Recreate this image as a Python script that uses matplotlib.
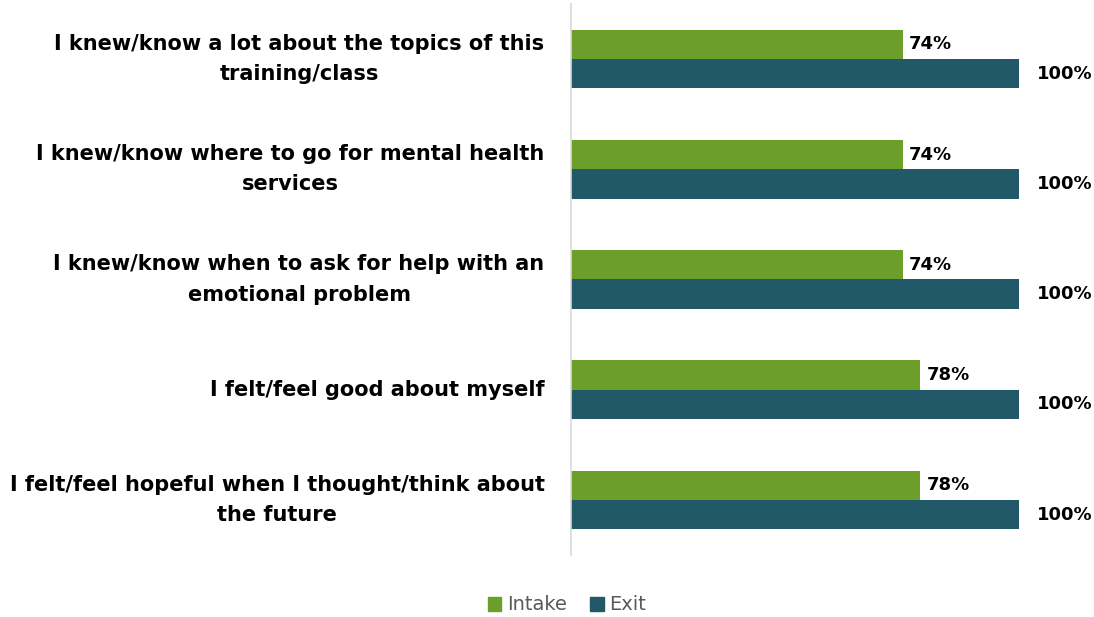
import matplotlib
matplotlib.use("Agg")
import matplotlib.pyplot as plt
from matplotlib.patches import Patch

categories = [
    "I knew/know a lot about the topics of this\ntraining/class",
    "I knew/know where to go for mental health\nservices",
    "I knew/know when to ask for help with an\nemotional problem",
    "I felt/feel good about myself",
    "I felt/feel hopeful when I thought/think about\nthe future",
]
intake = [74, 74, 74, 78, 78]
exit_vals = [100, 100, 100, 100, 100]

GREEN = "#6b9e2b"
TEAL = "#215968"

plt.rcParams["font.family"] = ["DejaVu Sans"]

fig = plt.figure(figsize=(10.94, 6.17), dpi=100)
ax = fig.add_axes([571 / 1094, 1 - 555 / 617, (1019 - 571) / 1094, (555 - 4) / 617])

h = 0.265
ys = list(range(len(categories)))
ax.barh([y - h / 2 for y in ys], intake, height=h, color=GREEN, label="Intake")
ax.barh([y + h / 2 for y in ys], exit_vals, height=h, color=TEAL, label="Exit")

for y, v in zip(ys, intake):
    ax.text(v + 1.3, y - h / 2, f"{v}%", va="center", ha="left",
            fontsize=13, fontweight="bold", clip_on=False)
for y, v in zip(ys, exit_vals):
    ax.text(v + 4, y + h / 2, f"{v}%", va="center", ha="left",
            fontsize=13, fontweight="bold", clip_on=False)

ax.set_xlim(0, 100)
ax.set_ylim(len(categories) - 0.5, -0.5)
ax.set_yticks(ys)
ax.set_yticklabels(categories, fontsize=15, fontweight="bold",
                   multialignment="center", linespacing=1.65)
for lbl in ax.get_yticklabels():
    lbl.set_va("center")
ax.tick_params(axis="y", length=0, pad=19)
ax.set_xticks([])
for s in ["top", "right", "bottom"]:
    ax.spines[s].set_visible(False)
ax.spines["left"].set_color("#d9d9d9")
ax.spines["left"].set_linewidth(1.2)

handles = [Patch(color=GREEN, label="Intake"), Patch(color=TEAL, label="Exit")]
fig.legend(handles=handles, loc="center", bbox_to_anchor=(567 / 1094, 1 - 605 / 617),
           ncol=2, frameon=False, fontsize=14, labelcolor="#595959",
           handlelength=0.7, handleheight=0.7, handletextpad=0.3, columnspacing=1.2)

fig.savefig("out.png", dpi=100)
